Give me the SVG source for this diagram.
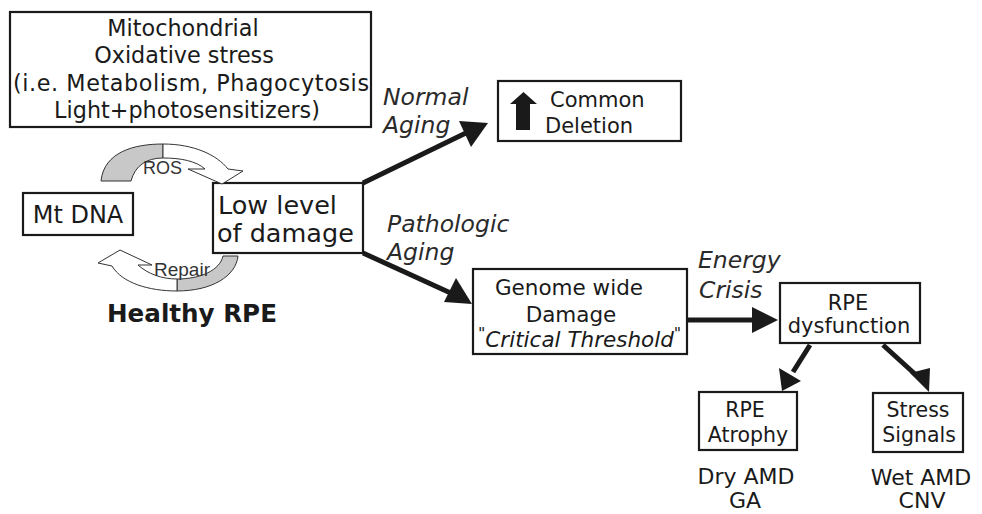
<svg xmlns="http://www.w3.org/2000/svg" width="982" height="514" viewBox="0 0 982 514">
<defs>
<style>
text{font-family:"DejaVu Sans","Verdana",sans-serif;fill:#1a1a1a}
.box{fill:#fff;stroke:#1a1a1a;stroke-width:2.2}
.lbl{font-style:italic;font-size:23.5px;fill:#2a2a2a}
.con{stroke:#1a1a1a;stroke-width:5;fill:none}
.head{fill:#1a1a1a}
.cur{stroke:#333;stroke-width:1;stroke-linejoin:round}
.ar{font-family:"Liberation Sans",Arial,sans-serif;fill:#333}
</style>
</defs>
<rect width="982" height="514" fill="#fff"/>

<g id="stress">
<rect class="box" x="10" y="12" width="361" height="115"/>
<text font-size="22.3" text-anchor="middle"><tspan x="183" y="36">Mitochondrial</tspan><tspan x="184" y="63">Oxidative stress</tspan><tspan x="191" y="91" textLength="356" lengthAdjust="spacing">(i.e. Metabolism, Phagocytosis</tspan><tspan x="187" y="118">Light+photosensitizers)</tspan></text>
</g>

<g id="mtdna">
<rect class="box" x="23" y="193" width="110" height="42"/>
<text x="78" y="223" font-size="24" text-anchor="middle">Mt DNA</text>
</g>

<g id="lowlevel">
<rect class="box" x="213" y="183" width="150" height="70"/>
<text font-size="25.5"><tspan x="218" y="214">Low level</tspan><tspan x="217" y="242">of damage</tspan></text>
</g>

<g id="cycle">
<path class="cur" fill="#c8c8c8" d="M101,181 C104,152 134,144 163,144 L163,158 C146,158 135,166 131,181 Z"/>
<path class="cur" fill="#fff" d="M163,144 C194,144 217,155 228,169 L243,171 L222,184 L188,169 L205,169 C196,161 181,158 163,158 Z"/>
<text class="ar" x="143" y="174" font-size="18">ROS</text>
<path class="cur" fill="#c8c8c8" d="M238,256 C236,276 212,291 177,291 L177,279 C201,279 220,270 223,256 Z"/>
<path class="cur" fill="#fff" d="M177,291 C149,291 122,283 112,266 L98,263 L120,250 L152,265 L138,265 C148,274 162,279 177,279 Z"/>
<text class="ar" x="154" y="276" font-size="19">Repair</text>
<text x="192" y="322" font-size="24.6" font-weight="bold" text-anchor="middle" fill="#222">Healthy RPE</text>
</g>

<g id="common">
<rect class="box" x="498" y="81" width="183" height="60"/>
<path class="head" d="M523.5,92 L537,104 L530,104 L530,130 L516,130 L516,104 L510,104 Z"/>
<text font-size="21"><tspan x="550" y="107">Common</tspan><tspan x="545" y="133">Deletion</tspan></text>
</g>

<g id="genome">
<rect class="box" x="473" y="269" width="214" height="85"/>
<text font-size="21.5" text-anchor="middle"><tspan x="569" y="295">Genome wide</tspan><tspan x="571" y="322">Damage</tspan></text>
<text font-size="21.5" x="478" y="347"><tspan font-size="16" dy="-8">"</tspan><tspan font-style="italic" dy="8">Critical Threshold</tspan><tspan font-size="16" dy="-8">"</tspan></text>
</g>

<g id="dysfunction">
<rect class="box" x="780" y="283" width="140" height="60"/>
<text font-size="21" text-anchor="middle"><tspan x="848" y="310">RPE</tspan><tspan x="849" y="333">dysfunction</tspan></text>
</g>

<g id="atrophy">
<rect class="box" x="699" y="392" width="98" height="58"/>
<text font-size="20.5" text-anchor="middle"><tspan x="745" y="417">RPE</tspan><tspan x="748" y="442">Atrophy</tspan></text>
</g>

<g id="signals">
<rect class="box" x="873" y="393" width="90" height="59"/>
<text font-size="20.5" text-anchor="middle"><tspan x="918" y="417">Stress</tspan><tspan x="919" y="442">Signals</tspan></text>
</g>

<g id="outcomes">
<text font-size="22" text-anchor="middle"><tspan x="746" y="484">Dry AMD</tspan><tspan x="745" y="508">GA</tspan></text>
<text font-size="22" text-anchor="middle"><tspan x="921" y="485">Wet AMD</tspan><tspan x="922" y="508">CNV</tspan></text>
</g>

<g id="labels">
<text class="lbl"><tspan x="383" y="105">Normal</tspan><tspan x="383" y="133">Aging</tspan></text>
<text class="lbl"><tspan x="387" y="232">Pathologic</tspan><tspan x="387" y="260">Aging</tspan></text>
<text class="lbl" fill="#333"><tspan x="698" y="268">Energy</tspan><tspan x="699" y="298">Crisis</tspan></text>
</g>

<g id="connectors">
<line class="con" x1="363" y1="183" x2="470" y2="131"/>
<path class="head" d="M488,123 L459,121 L471,147 Z"/>
<line class="con" x1="363" y1="253" x2="455" y2="295"/>
<path class="head" d="M472,304 L444,302 L456,278 Z"/>
<line class="con" x1="687" y1="320" x2="755" y2="320"/>
<path class="head" d="M778,320 L752,307 L752,333 Z"/>
<line class="con" x1="810" y1="345" x2="793" y2="372"/>
<path class="head" d="M782,391 L779,368 L801,381 Z"/>
<line class="con" x1="883" y1="345" x2="916" y2="375"/>
<path class="head" d="M929,392 L910,373 L930,368 Z"/>
</g>
</svg>
